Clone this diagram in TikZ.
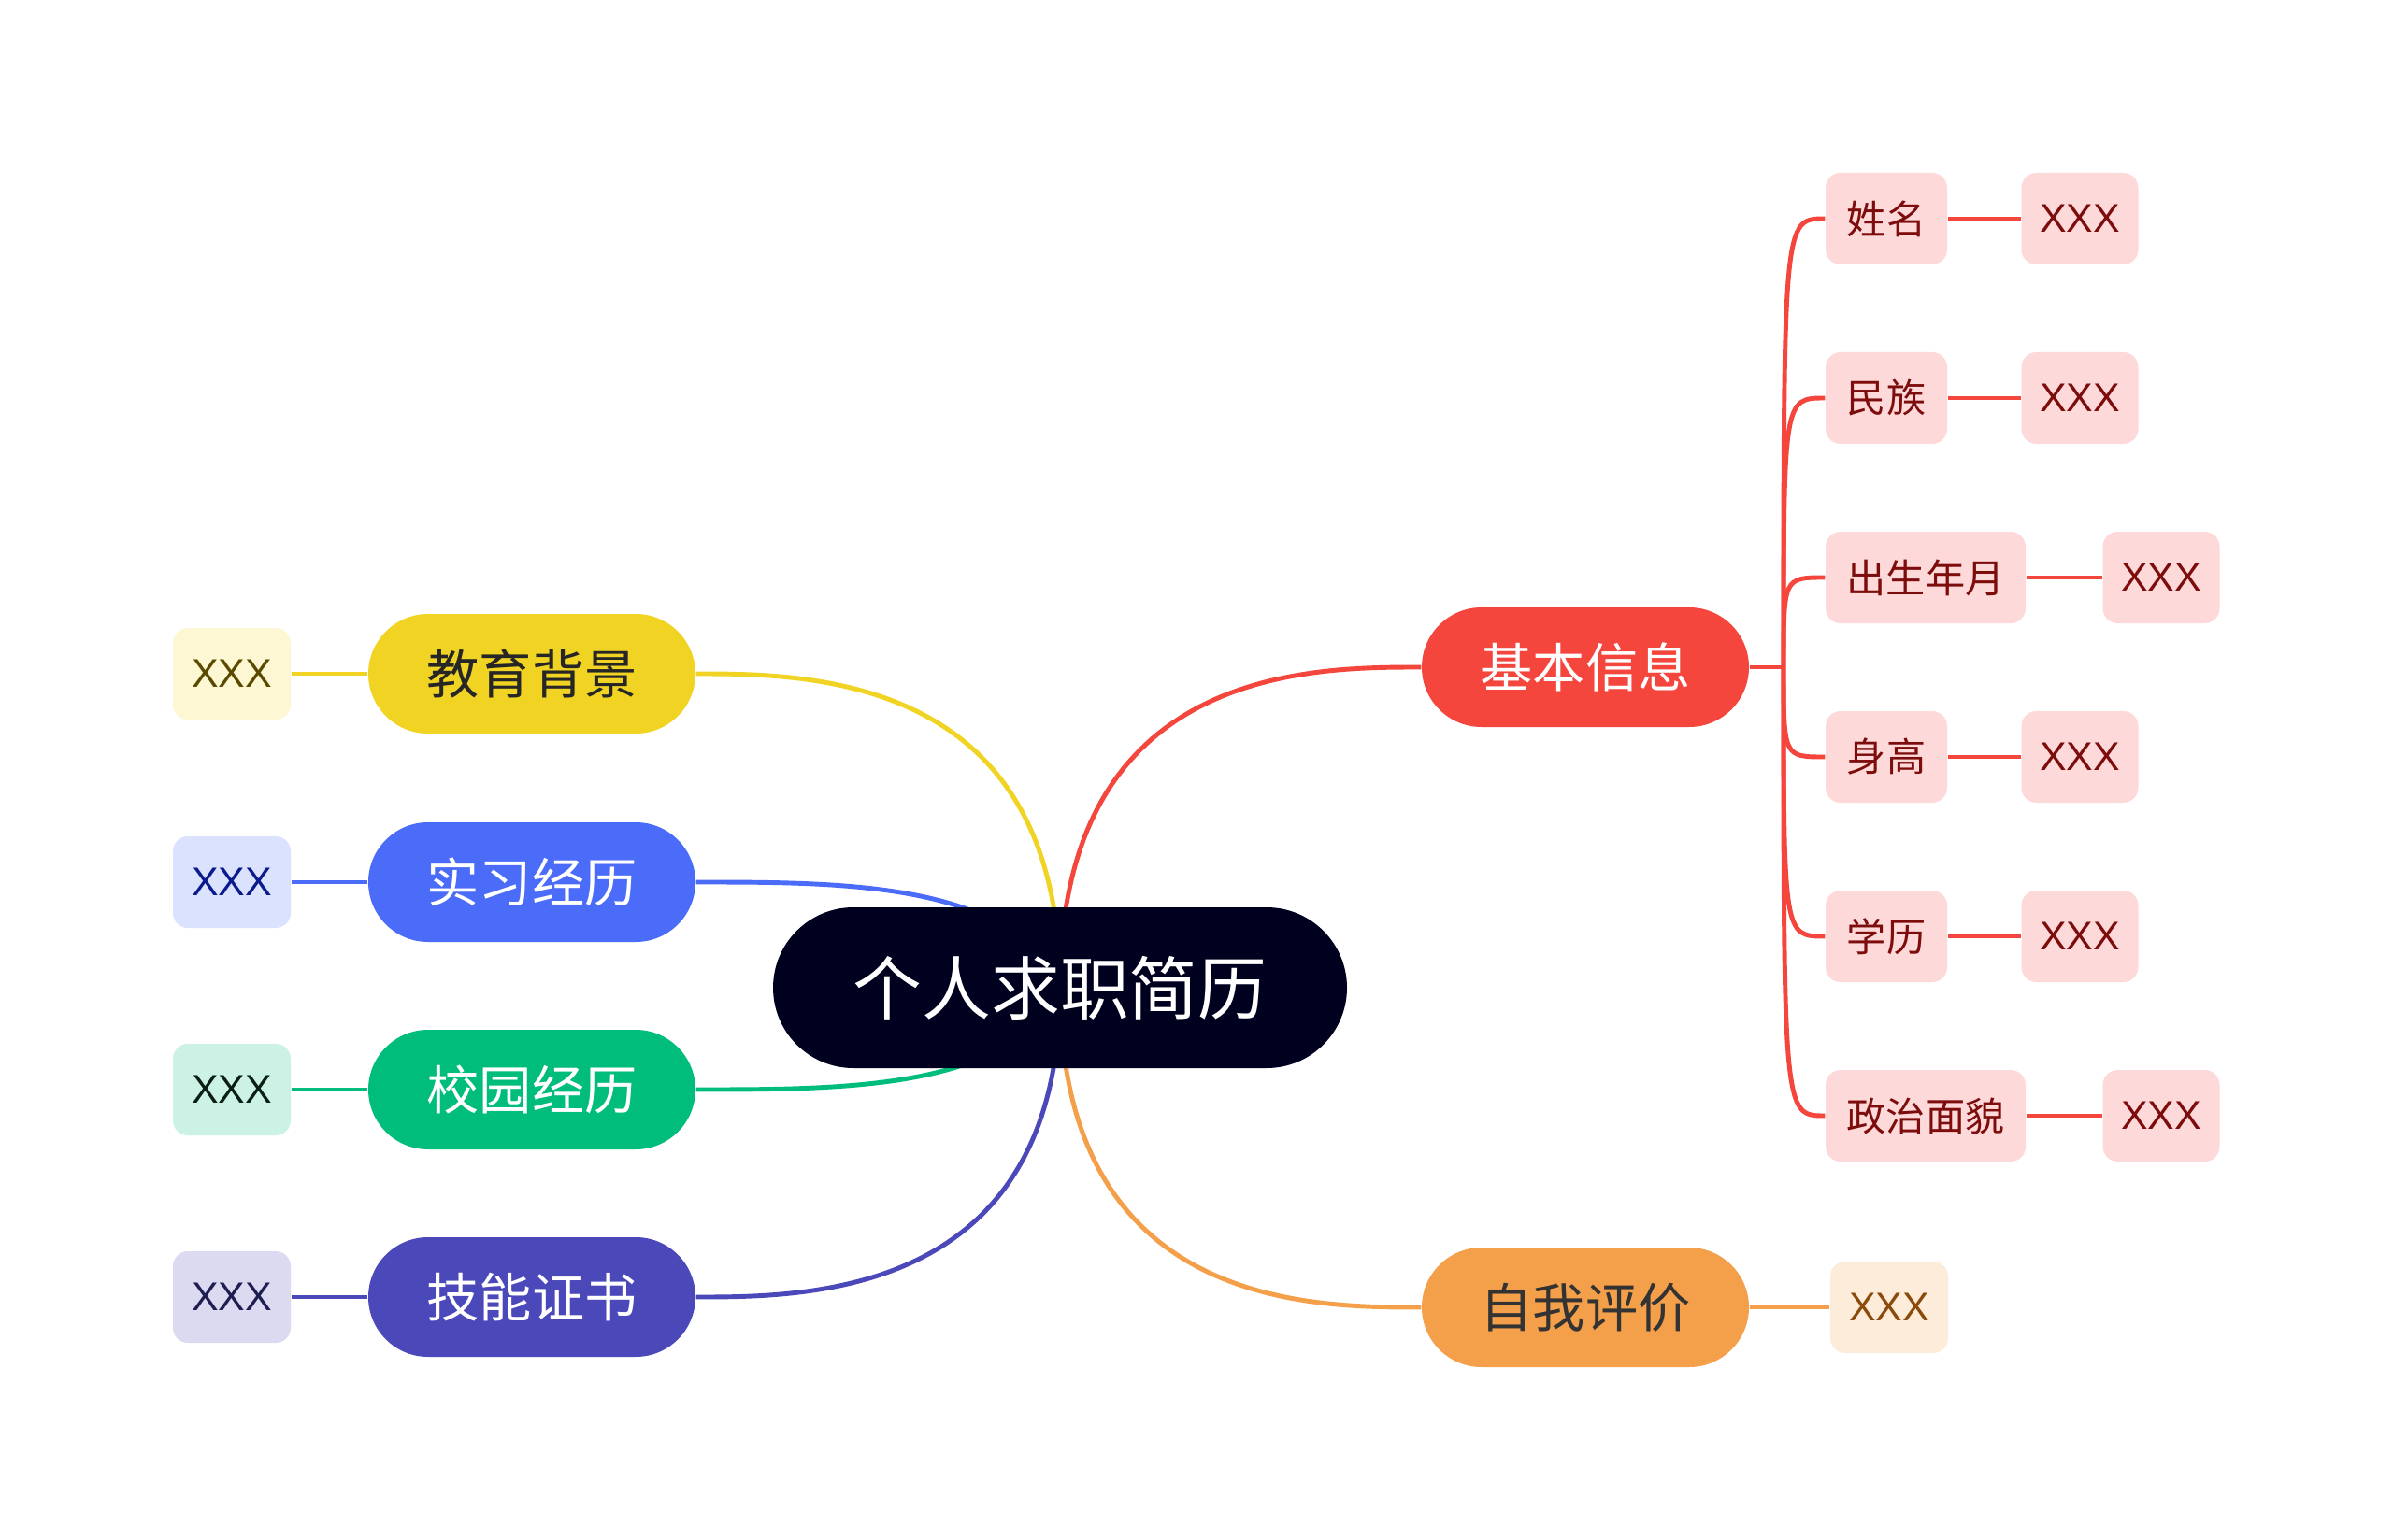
\documentclass[tikz,border=0pt]{standalone}
\usepackage{fontspec}
\setmainfont{Noto Sans CJK SC}
\newfontfamily\latinfont{Liberation Sans}
\usetikzlibrary{calc,backgrounds}
\definecolor{rootc}{HTML}{00001F}
\definecolor{yel}{HTML}{F1D423}
\definecolor{yell}{HTML}{FDF7D3}
\definecolor{yelt}{HTML}{5A4A00}
\definecolor{blu}{HTML}{4A6CF8}
\definecolor{blul}{HTML}{DBE2FE}
\definecolor{blut}{HTML}{0B1A8C}
\definecolor{grn}{HTML}{00BD7B}
\definecolor{grnl}{HTML}{CCF2E5}
\definecolor{grnt}{HTML}{0A1F14}
\definecolor{ind}{HTML}{4B48B9}
\definecolor{indl}{HTML}{DBDAF1}
\definecolor{indt}{HTML}{1E1E50}
\definecolor{rd}{HTML}{F5463D}
\definecolor{rdl}{HTML}{FDDAD9}
\definecolor{rdt}{HTML}{7D0C0C}
\definecolor{org}{HTML}{F4A04A}
\definecolor{orgl}{HTML}{FDECDA}
\definecolor{orgt}{HTML}{8A4B0A}

\begin{document}
\begin{tikzpicture}[
  every node/.style={inner sep=0pt},
  root/.style={fill=rootc,text=white,rounded corners=0.86cm,minimum width=6.14cm,minimum height=1.72cm,font=\fontsize{21}{25}\selectfont},
  topic/.style={rounded corners=0.64cm,minimum width=3.5cm,minimum height=1.28cm,font=\fontsize{16}{19}\selectfont},
  leaf/.style={rounded corners=0.16cm,minimum width=1.26cm,minimum height=0.98cm,font=\latinfont\fontsize{12.2}{15}\selectfont},
  sub/.style={fill=rdl,text=rdt,rounded corners=0.16cm,minimum height=0.98cm,font=\fontsize{12}{15}\selectfont},
  subx/.style={fill=rdl,text=rdt,rounded corners=0.16cm,minimum width=1.25cm,minimum height=0.98cm,font=\latinfont\fontsize{12.2}{15}\selectfont},
  link/.style={line width=1.4pt}
]
\useasboundingbox (0,0) rectangle (25.6,16.47);
\node (c) at (11.34,5.90)[root]{个人求职简历};
\node (edu) at (5.69,9.26)[topic,fill=yel,text=black!85]{教育背景};
\node (intern) at (5.69,7.03)[topic,fill=blu,text=white]{实习经历};
\node (camp) at (5.69,4.81)[topic,fill=grn,text=white]{校园经历};
\node (skill) at (5.69,2.59)[topic,fill=ind,text=white]{技能证书};
\node (edux) at (2.48,9.26)[leaf,fill=yell,text=yelt]{XXX};
\node (internx) at (2.48,7.03)[leaf,fill=blul,text=blut]{XXX};
\node (campx) at (2.48,4.81)[leaf,fill=grnl,text=grnt]{XXX};
\node (skillx) at (2.48,2.59)[leaf,fill=indl,text=indt]{XXX};
\node (basic) at (16.96,9.33)[topic,fill=rd,text=white]{基本信息};
\node (self) at (16.96,2.48)[topic,fill=org,text=black!80]{自我评价};
\node (selfx) at (20.21,2.48)[leaf,fill=orgl,text=orgt]{XXX};
\coordinate (j) at (19.08,9.33);
\node (name) at (20.18,14.13)[sub,minimum width=1.30cm]{姓名};
\node (nation) at (20.18,12.21)[sub,minimum width=1.30cm]{民族};
\node (birth) at (20.60,10.29)[sub,minimum width=2.14cm]{出生年月};
\node (height) at (20.18,8.37)[sub,minimum width=1.30cm]{身高};
\node (degree) at (20.18,6.45)[sub,minimum width=1.30cm]{学历};
\node (party) at (20.60,4.53)[sub,minimum width=2.14cm]{政治面貌};
\node (namex) at (22.25,14.13)[subx]{XXX};
\node (nationx) at (22.25,12.21)[subx]{XXX};
\node (birthx) at (23.12,10.29)[subx]{XXX};
\node (heightx) at (22.25,8.37)[subx]{XXX};
\node (degreex) at (22.25,6.45)[subx]{XXX};
\node (partyx) at (23.12,4.53)[subx]{XXX};
\begin{pgfonlayer}{background}
\fill[white] (0,0) rectangle (25.6,16.47);
\draw[link,yel] (c.center) .. controls (c.center |- edu.east) and ($(edu.east)+(1.2,0)$) .. (edu.east);
\draw[link,blu] (c.center) .. controls ($(c.center |- intern.east)+(-0.5,0)$) and ($(intern.east)+(1.6,0)$) .. (intern.east);
\draw[link,grn] (c.center) .. controls ($(c.center |- camp.east)+(-0.5,0)$) and ($(camp.east)+(1.6,0)$) .. (camp.east);
\draw[link,ind] (c.center) .. controls (c.center |- skill.east) and ($(skill.east)+(1.2,0)$) .. (skill.east);
\draw[link,rd] (c.center) .. controls (c.center |- basic.west) and ($(basic.west)+(-1.2,0)$) .. (basic.west);
\draw[link,org] (c.center) .. controls (c.center |- self.west) and ($(self.west)+(-1.2,0)$) .. (self.west);
\draw[link,yel] (edu.west) -- (edux.east);
\draw[link,blu] (intern.west) -- (internx.east);
\draw[link,grn] (camp.west) -- (campx.east);
\draw[link,ind] (skill.west) -- (skillx.east);
\draw[link,org] (self.east) -- (selfx.west);
\draw[link,rd] (basic.east) -- (j);
\draw[link,rd] (j) .. controls (j |- name.west) .. (name.west);
\draw[link,rd] (j) .. controls (j |- nation.west) .. (nation.west);
\draw[link,rd] (j) .. controls (j |- birth.west) .. (birth.west);
\draw[link,rd] (j) .. controls (j |- height.west) .. (height.west);
\draw[link,rd] (j) .. controls (j |- degree.west) .. (degree.west);
\draw[link,rd] (j) .. controls (j |- party.west) .. (party.west);
\draw[link,rd] (name.east) -- (namex.west);
\draw[link,rd] (nation.east) -- (nationx.west);
\draw[link,rd] (birth.east) -- (birthx.west);
\draw[link,rd] (height.east) -- (heightx.west);
\draw[link,rd] (degree.east) -- (degreex.west);
\draw[link,rd] (party.east) -- (partyx.west);
\end{pgfonlayer}
\end{tikzpicture}
\end{document}
